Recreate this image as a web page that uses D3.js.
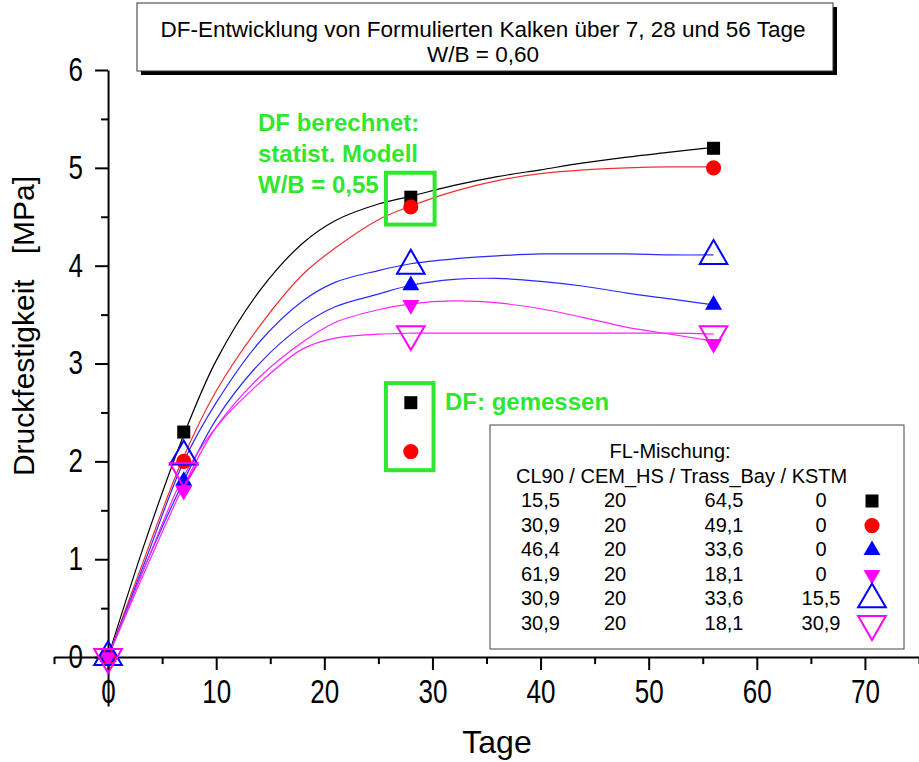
<!DOCTYPE html>
<html>
<head>
<meta charset="utf-8">
<script src="https://cdn.jsdelivr.net/npm/d3@7"></script>
<style>
  body { margin: 0; background: #fff; }
  svg { display: block; font-family: "Liberation Sans", Arial, sans-serif; }
</style>
</head>
<body>
<script>
// measured compressive strength at 0, 7, 28, 56 days
var days = [0, 7, 28, 56];
var strength = [
    [0, 2.3, 4.7, 5.2],
    [0, 2.0, 4.6, 5.0],
    [0, 1.8, 3.8, 3.6],
    [0, 1.7, 3.6, 3.2],
    [0, 2.05, 4.0, 4.1],
    [0, 1.9, 3.3, 3.3]
];
// fitted curves
var fitDays = [0, 3.5, 7, 10, 14, 18, 21, 25, 28, 32, 36, 40, 44, 48, 52, 56];
var fitValues = [
    [0, 1.2, 2.27, 3.03, 3.74, 4.23, 4.46, 4.63, 4.71, 4.82, 4.91, 4.98, 5.05, 5.11, 5.16, 5.21],
    [0, 1.05, 2.05, 2.72, 3.38, 3.91, 4.18, 4.47, 4.61, 4.76, 4.87, 4.94, 4.98, 5.0, 5.01, 5.01],
    [0, 0.95, 1.8, 2.43, 3.0, 3.39, 3.58, 3.71, 3.80, 3.86, 3.87, 3.84, 3.79, 3.72, 3.66, 3.60],
    [0, 0.9, 1.75, 2.35, 2.86, 3.22, 3.42, 3.55, 3.61, 3.64, 3.62, 3.56, 3.47, 3.37, 3.30, 3.23],
    [0, 1.0, 2.0, 2.6, 3.22, 3.64, 3.83, 3.95, 4.02, 4.07, 4.10, 4.12, 4.12, 4.12, 4.11, 4.11],
    [0, 0.95, 1.85, 2.35, 2.80, 3.15, 3.26, 3.30, 3.31, 3.31, 3.31, 3.31, 3.31, 3.31, 3.31, 3.30]
];
// DF gemessen (W/B = 0,55) at 28 days, series 1 and 2
var measuredDay = 28;
var measuredValues = [2.6, 2.1];

// legend table: FL-Mischung
var mixCL90 = ['15,5', '30,9', '46,4', '61,9', '30,9', '30,9'];
var mixCEM = ['20', '20', '20', '20', '20', '20'];
var mixTrass = ['64,5', '49,1', '33,6', '18,1', '33,6', '18,1'];
var mixKSTM = ['0', '0', '0', '0', '15,5', '30,9'];

var xTicks = [0, 10, 20, 30, 40, 50, 60, 70];
var xMinorTicks = [-5, 5, 15, 25, 35, 45, 55, 65, 75];
var yTicks = [0, 1, 2, 3, 4, 5, 6];
var yMinorTicks = [0.5, 1.5, 2.5, 3.5, 4.5, 5.5];

var lineColors = ['#000000', '#f03030', '#2a2aff', '#ff22ff', '#2a2aff', '#ff22ff'];
var markColors = ['#000000', '#ff0000', '#0000ff', '#ff00ff', '#0000ff', '#ff00ff'];
var green = '#2ee82e';

var svgwidth = 919, svgheight = 762;

var x = d3.scaleLinear().domain([-5, 75]).range([54, 919]);
var y = d3.scaleLinear().domain([-0.5, 6]).range([706, 70]);

var svg = d3.select('body').append('svg')
    .attr('width', svgwidth)
    .attr('height', svgheight);

// marker shapes per series, drawn at (px, py)
function marker(sel, i, px, py) {
    var path, rot = 0, filled = true;
    if (i == 0) path = d3.symbol(d3.symbolSquare, 169)();
    if (i == 1) path = d3.symbol(d3.symbolCircle, 180)();
    if (i == 2) path = d3.symbol(d3.symbolTriangle, 125)();
    if (i == 3) { path = d3.symbol(d3.symbolTriangle, 125)(); rot = 180; }
    if (i == 4) { path = d3.symbol(d3.symbolTriangle, 330)(); filled = false; }
    if (i == 5) { path = d3.symbol(d3.symbolTriangle, 330)(); rot = 180; filled = false; }
    sel.append('path')
        .attr('d', path)
        .attr('transform', 'translate(' + px + ',' + py + ')' + (rot ? ' rotate(180)' : ''))
        .attr('fill', filled ? markColors[i] : 'none')
        .attr('stroke', filled ? 'none' : markColors[i])
        .attr('stroke-width', 2);
}

// x axis at y = 0
var xaxis = svg.append('g').attr('transform', 'translate(0,' + y(0) + ')');
xaxis.call(d3.axisBottom(x).tickValues(xTicks).tickSize(13).tickSizeOuter(0).tickPadding(5));
xaxis.append('g').call(d3.axisBottom(x).tickValues(xMinorTicks).tickSize(7).tickFormat(''))
    .select('.domain').remove();

// y axis at x = 0
var yaxis = svg.append('g').attr('transform', 'translate(' + x(0) + ',0)');
yaxis.call(d3.axisLeft(y).tickValues(yTicks).tickFormat(d3.format('d')).tickSize(13).tickSizeOuter(0).tickPadding(12));
yaxis.append('g').call(d3.axisLeft(y).tickValues(yMinorTicks).tickSize(7).tickFormat(''))
    .select('.domain').remove();

svg.selectAll('.domain, .tick line').attr('stroke', '#000').attr('stroke-width', 2);
// tick labels look a bit taller than wide in the original
svg.selectAll('.tick text')
    .attr('font-size', 26)
    .attr('fill', '#000')
    .attr('font-family', '"Liberation Sans", Arial, sans-serif')
    .attr('transform', 'scale(1,1.25)');

// fitted curves
var line = d3.line()
    .x(function (d) { return x(d[0]); })
    .y(function (d) { return y(d[1]); })
    .curve(d3.curveCatmullRom);
fitValues.forEach(function (vals, i) {
    svg.append('path')
        .datum(fitDays.map(function (d, j) { return [d, vals[j]]; }))
        .attr('d', line)
        .attr('fill', 'none')
        .attr('stroke', lineColors[i])
        .attr('stroke-width', 1.2);
});

// markers
strength.forEach(function (vals, i) {
    vals.forEach(function (v, j) {
        marker(svg, i, x(days[j]), y(v));
    });
});

// DF gemessen markers
measuredValues.forEach(function (v, i) {
    marker(svg, i, x(measuredDay), y(v));
});

// green annotation boxes
svg.append('rect')
    .attr('x', x(25.7)).attr('y', y(4.95))
    .attr('width', x(30.2) - x(25.7)).attr('height', y(4.42) - y(4.95))
    .attr('fill', 'none').attr('stroke', green).attr('stroke-width', 4);
svg.append('rect')
    .attr('x', x(25.7)).attr('y', y(2.8))
    .attr('width', x(30.1) - x(25.7)).attr('height', y(1.91) - y(2.8))
    .attr('fill', 'none').attr('stroke', green).attr('stroke-width', 4);

var greenText = [['DF berechnet:', 258, 131], ['statist. Modell', 258, 162], ['W/B = 0,55', 258, 193], ['DF: gemessen', 445, 410]];
greenText.forEach(function (t) {
    svg.append('text')
        .attr('x', t[1]).attr('y', t[2])
        .attr('font-size', 24)
        .attr('font-weight', 'bold')
        .attr('fill', green)
        .text(t[0]);
});

// title box with shadow
svg.append('rect').attr('x', 141).attr('y', 7).attr('width', 696).attr('height', 68).attr('fill', '#000');
svg.append('rect').attr('x', 137).attr('y', 3).attr('width', 696).attr('height', 68)
    .attr('fill', '#fff').attr('stroke', '#333').attr('stroke-width', 1);
svg.append('text').attr('x', 483).attr('y', 37).attr('text-anchor', 'middle').attr('font-size', 22.5)
    .text('DF-Entwicklung von Formulierten Kalken über 7, 28 und 56 Tage');
svg.append('text').attr('x', 483).attr('y', 62).attr('text-anchor', 'middle').attr('font-size', 22.5)
    .text('W/B = 0,60');

// axis titles
svg.append('text')
    .attr('x', 497).attr('y', 753)
    .attr('text-anchor', 'middle')
    .attr('font-size', 32)
    .text('Tage');
svg.append('text')
    .attr('transform', 'translate(34,326) rotate(-90)')
    .attr('text-anchor', 'middle')
    .attr('font-size', 30)
    .style('white-space', 'pre')
    .text('Druckfestigkeit   [MPa]');

// legend
var lg = svg.append('g');
lg.append('rect').attr('x', 490).attr('y', 425).attr('width', 414).attr('height', 224)
    .attr('fill', '#fff').attr('stroke', '#444').attr('stroke-width', 1);
lg.append('text').attr('x', 670).attr('y', 458).attr('text-anchor', 'middle').attr('font-size', 20)
    .text('FL-Mischung:');
lg.append('text').attr('x', 516).attr('y', 483).attr('font-size', 20)
    .text('CL90 / CEM_HS / Trass_Bay / KSTM');
var rowY = d3.scaleLinear().domain([0, 5]).range([507, 630]);
mixCL90.forEach(function (d, i) {
    var ty = rowY(i);
    lg.append('text').attr('x', 521).attr('y', ty).attr('font-size', 20).text(mixCL90[i]);
    lg.append('text').attr('x', 615).attr('y', ty).attr('text-anchor', 'middle').attr('font-size', 20).text(mixCEM[i]);
    lg.append('text').attr('x', 724).attr('y', ty).attr('text-anchor', 'middle').attr('font-size', 20).text(mixTrass[i]);
    lg.append('text').attr('x', 821).attr('y', ty).attr('text-anchor', 'middle').attr('font-size', 20).text(mixKSTM[i]);
    marker(lg, i, 872, ty - 6);
});
</script>
</body>
</html>
